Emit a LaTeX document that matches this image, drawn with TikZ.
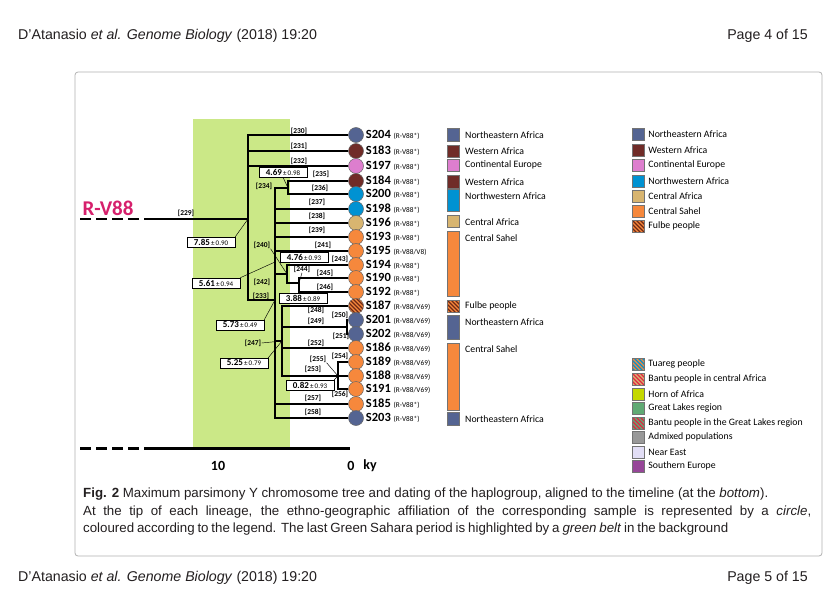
\documentclass[tikz,border=0pt]{standalone}
\usepackage{fontspec}
\setmainfont{Liberation Sans}
\newfontfamily\figfont{Carlito}
\usetikzlibrary{positioning}

\definecolor{nea}{RGB}{84,100,146}
\definecolor{wafr}{RGB}{112,44,40}
\definecolor{ceur}{RGB}{221,126,206}
\definecolor{nwafr}{RGB}{0,146,210}
\definecolor{cafr}{RGB}{216,181,112}
\definecolor{csahel}{RGB}{246,136,60}
\definecolor{fulbed}{RGB}{110,40,20}
\definecolor{bred}{RGB}{226,36,66}
\definecolor{horn}{RGB}{196,216,0}
\definecolor{glakes}{RGB}{96,170,116}
\definecolor{admix}{RGB}{152,152,152}
\definecolor{neast}{RGB}{226,222,246}
\definecolor{seur}{RGB}{150,70,152}
\definecolor{belt}{RGB}{203,232,135}
\definecolor{rvcol}{RGB}{214,32,108}
\definecolor{txtcol}{RGB}{35,31,32}

\newcommand\hg[1]{{\mdseries\fontsize{7.3}{8}\selectfont #1}}
\newcommand\dt[2]{\textbf{#1}{\fontsize{7}{8}\selectfont\,±\,#2}}
% striped patch: clip path, x, y, base colour, stripe colour
\newcommand\stripefill[5]{%
  \begin{scope}
    \clip #1;
    \fill[#4] #1;
    \foreach \k in {-20,-16,...,20}
      \draw[#5, line width=1.4pt] (#2+\k,#3) -- ++(24,24);
  \end{scope}}

\begin{document}
\begin{tikzpicture}[x=1pt,y=-1pt,
    branch/.style={line width=2.6pt},
    twig/.style={line width=1.7pt},
    lead/.style={line width=0.45pt},
    leaf/.style={circle, draw=black!60, line width=0.5pt, minimum size=15pt, inner sep=0pt},
    sname/.style={font=\figfont\bfseries\fontsize{12.5}{13}\selectfont, inner sep=0pt},
    bl/.style={font=\figfont\bfseries\fontsize{7.5}{8}\selectfont, inner sep=0.3pt},
    date/.style={draw, fill=white, line width=0.5pt, minimum width=48pt, minimum height=10pt,
      inner sep=0.5pt, font=\figfont\fontsize{9}{9}\selectfont},
    legbox/.style={draw=black!55, line width=0.5pt},
    legsq/.style={legbox, minimum size=12pt, inner sep=0pt},
    legtxt/.style={font=\figfont\fontsize{9.8}{10}\selectfont, inner sep=0pt, anchor=west},
    axisline/.style={line width=3pt},
    ticklbl/.style={font=\figfont\bfseries\fontsize{14}{15}\selectfont, inner sep=0pt},
    pagetxt/.style={font=\fontsize{14.2}{16}\selectfont, text=txtcol, inner sep=0pt},
    captxt/.style={font=\fontsize{13.3}{15}\selectfont, text=txtcol, inner sep=0pt, anchor=west}]
        \useasboundingbox (0,0) rectangle (838,605);
        \fill[white] (0,0) rectangle (838,605);

        % page header and footer
        \node[pagetxt, anchor=west] (head) at (18,36) {D’Atanasio \textit{et al. Genome Biology} (2018) 19:20};
        \node[pagetxt, anchor=east] (page4) at (808,36) {Page 4 of 15};
        \node[pagetxt, anchor=west] (foot) at (18,578) {D’Atanasio \textit{et al. Genome Biology} (2018) 19:20};
        \node[pagetxt, anchor=east] (page5) at (808,578) {Page 5 of 15};
        \draw[black!30, line width=0.8pt, rounded corners=3pt] (75,72) rectangle (822,556);

        % green sahara belt
        \fill[belt] (193,119) rectangle (290,448);

        % timeline
        \coordinate (ax0) at (80,448);
        \coordinate (ax1) at (150,448);
        \coordinate (ax2) at (350,448);
        \draw[axisline, dash pattern=on 11pt off 5pt] (ax0) -- (ax1);
        \draw[axisline] (ax1) -- (ax2);
        \node[ticklbl] (k10) at (218,466) {10};
        \node[ticklbl] (k0) at (351,466) {0};
        \node[ticklbl] (kky) at (370,466) {ky};

        % samples
        \node[leaf, fill=nea] (s204) at (356,135) {};
        \node[leaf, fill=wafr] (s183) at (356,151) {};
        \node[leaf, fill=ceur] (s197) at (356,166) {};
        \node[leaf, fill=wafr] (s184) at (356,181) {};
        \node[leaf, fill=nwafr] (s200) at (356,194) {};
        \node[leaf, fill=nwafr] (s198) at (356,209) {};
        \node[leaf, fill=cafr] (s196) at (356,223) {};
        \node[leaf, fill=csahel] (s193) at (356,237) {};
        \node[leaf, fill=csahel] (s195) at (356,251) {};
        \node[leaf, fill=csahel] (s194) at (356,265) {};
        \node[leaf, fill=csahel] (s190) at (356,278) {};
        \node[leaf, fill=csahel] (s192) at (356,292) {};
        \stripefill{(356,306) circle (7.5)}{348}{298}{csahel}{fulbed}
        \node[leaf] (s187) at (356,306) {};
        \node[leaf, fill=nea] (s201) at (356,320) {};
        \node[leaf, fill=nea] (s202) at (356,334) {};
        \node[leaf, fill=csahel] (s186) at (356,348) {};
        \node[leaf, fill=csahel] (s189) at (356,362) {};
        \node[leaf, fill=csahel] (s188) at (356,376) {};
        \node[leaf, fill=csahel] (s191) at (356,389) {};
        \node[leaf, fill=csahel] (s185) at (356,404) {};
        \node[leaf, fill=nea] (s203) at (356,418) {};

        \node[sname, right=2pt of s204] (t204) {S204 \hg{(R-V88*)}};
        \node[sname, right=2pt of s183] (t183) {S183 \hg{(R-V88*)}};
        \node[sname, right=2pt of s197] (t197) {S197 \hg{(R-V88*)}};
        \node[sname, right=2pt of s184] (t184) {S184 \hg{(R-V88*)}};
        \node[sname, right=2pt of s200] (t200) {S200 \hg{(R-V88*)}};
        \node[sname, right=2pt of s198] (t198) {S198 \hg{(R-V88*)}};
        \node[sname, right=2pt of s196] (t196) {S196 \hg{(R-V88*)}};
        \node[sname, right=2pt of s193] (t193) {S193 \hg{(R-V88*)}};
        \node[sname, right=2pt of s195] (t195) {S195 \hg{(R-V88/V8)}};
        \node[sname, right=2pt of s194] (t194) {S194 \hg{(R-V88*)}};
        \node[sname, right=2pt of s190] (t190) {S190 \hg{(R-V88*)}};
        \node[sname, right=2pt of s192] (t192) {S192 \hg{(R-V88*)}};
        \node[sname, right=2pt of s187] (t187) {S187 \hg{(R-V88/V69)}};
        \node[sname, right=2pt of s201] (t201) {S201 \hg{(R-V88/V69)}};
        \node[sname, right=2pt of s202] (t202) {S202 \hg{(R-V88/V69)}};
        \node[sname, right=2pt of s186] (t186) {S186 \hg{(R-V88/V69)}};
        \node[sname, right=2pt of s189] (t189) {S189 \hg{(R-V88/V69)}};
        \node[sname, right=2pt of s188] (t188) {S188 \hg{(R-V88/V69)}};
        \node[sname, right=2pt of s191] (t191) {S191 \hg{(R-V88/V69)}};
        \node[sname, right=2pt of s185] (t185) {S185 \hg{(R-V88*)}};
        \node[sname, right=2pt of s203] (t203) {S203 \hg{(R-V88*)}};

        % internal nodes
        \coordinate (rd) at (80,219);
        \coordinate (rs) at (150,219);
        \coordinate (r) at (248,219);
        \coordinate (n233) at (275,300);
        \coordinate (n235) at (288,188);
        \coordinate (n240) at (275,262);
        \coordinate (n243) at (287,274);
        \coordinate (n244) at (299,283);
        \coordinate (n247) at (282,341);
        \coordinate (n250) at (347,327);
        \coordinate (n254) at (338,376);

        % tree
        \draw[branch, dash pattern=on 11pt off 5pt] (rd) -- (rs);
        \draw[branch, line width=2pt] (rs) -- (r);
        \node[font=\figfont\bfseries\fontsize{21}{22}\selectfont, text=rvcol, inner sep=0pt] (rv88) at (108,208) {R-V88};
        \draw[branch] (s204) -- (r |- s204) -- (r |- n233) -- (n233);
        \draw[branch] (s183) -- (r |- s183);
        \draw[branch] (s197) -- (r |- s197);
        \draw[branch] (n235) -- (n233 |- n235) -- (n233 |- s203) -- (s203);
        \draw[branch] (s184) -- (n235 |- s184) -- (n235 |- s200) -- (s200);
        \draw[twig] (s198) -- (n233 |- s198);
        \draw[twig] (s196) -- (n233 |- s196);
        \draw[branch] (s193) -- (n233 |- s193);
        \draw[twig] (s195) -- (n233 |- s195);
        \draw[branch] (n243) -- (n233 |- n243);
        \draw[branch] (s194) -- (n243 |- s194) -- (n243 |- n244) -- (n244);
        \draw[branch] (s190) -- (n244 |- s190) -- (n244 |- s192) -- (s192);
        \draw[branch] (n247) -- (n233 |- n247);
        \draw[branch] (s187) -- (n247 |- s187) -- (n247 |- s188) -- (s188);
        \draw[branch] (n250) -- (n247 |- n250);
        \draw[branch] (s201) -- (n250 |- s201) -- (n250 |- s202) -- (s202);
        \draw[twig] (s186) -- (n247 |- s186);
        \draw[branch] (s189) -- (n254 |- s189) -- (n254 |- s191) -- (s191);
        \draw[branch] (s185) -- (n233 |- s185);

        % branch numbers
        \node[bl] (l229) at (186,213) {[229]};
        \node[bl] (l230) at (299,131) {[230]};
        \node[bl] (l231) at (299,146) {[231]};
        \node[bl] (l232) at (299,161) {[232]};
        \node[bl] (l234) at (264,186) {[234]};
        \node[bl] (l235) at (321,174) {[235]};
        \node[bl] (l236) at (320,188) {[236]};
        \node[bl] (l237) at (317,202) {[237]};
        \node[bl] (l238) at (317,216) {[238]};
        \node[bl] (l239) at (317,230) {[239]};
        \node[bl] (l240) at (262,245) {[240]};
        \node[bl] (l241) at (323,245) {[241]};
        \node[bl] (l242) at (262,282) {[242]};
        \node[bl] (l243) at (340,259) {[243]};
        \node[bl] (l244) at (302,269) {[244]};
        \node[bl] (l245) at (325,273) {[245]};
        \node[bl] (l246) at (325,287) {[246]};
        \node[bl] (l233) at (261,296) {[233]};
        \node[bl] (l248) at (316,310) {[248]};
        \node[bl] (l249) at (316,321) {[249]};
        \node[bl] (l250) at (340,315) {[250]};
        \node[bl] (l251) at (341,336) {[251]};
        \node[bl] (l252) at (316,343) {[252]};
        \node[bl] (l247) at (253,343) {[247]};
        \node[bl] (l255) at (318,359) {[255]};
        \node[bl] (l254) at (340,356) {[254]};
        \node[bl] (l253) at (313,369) {[253]};
        \node[bl] (l256) at (340,394) {[256]};
        \node[bl] (l257) at (313,398) {[257]};
        \node[bl] (l258) at (313,412) {[258]};
        \draw[lead] (l240.south east) -- (n243);
        \draw[lead] (l244.south) -- (n244);
        \draw[lead] (l247.east) -- (n247);
        \draw[lead] (l255.south east) -- (n254);

        % dating of the nodes
        \node[date] (d785) at (211,242) {\dt{7.85}{0.90}};
        \node[date] (d469) at (283,172) {\dt{4.69}{0.98}};
        \node[date] (d561) at (216,283) {\dt{5.61}{0.94}};
        \node[date] (d476) at (304,257) {\dt{4.76}{0.93}};
        \node[date] (d388) at (303,298) {\dt{3.88}{0.89}};
        \node[date] (d573) at (240,325) {\dt{5.73}{0.49}};
        \node[date] (d525) at (244,363) {\dt{5.25}{0.79}};
        \node[date] (d082) at (310,385) {\dt{0.82}{0.93}};
        \draw[lead] (d785.north east) -- (r);
        \draw[lead] (d469.south) -- (n235);
        \draw[lead] (d561.north east) -- (n240);
        \draw[lead] (d573.north east) -- (n233);
        \draw[lead] (d525.north east) -- (n247);
        \draw[lead] (d082.north east) -- (n254);

        % legend beside the samples
        \draw[legbox, fill=nea] (447,128) rectangle (459,141);
        \draw[legbox, fill=wafr] (447,145) rectangle (459,157);
        \draw[legbox, fill=ceur] (447,159) rectangle (459,171);
        \draw[legbox, fill=wafr] (447,175) rectangle (459,188);
        \draw[legbox, fill=nwafr] (447,189) rectangle (459,211);
        \draw[legbox, fill=cafr] (447,215) rectangle (459,227);
        \draw[legbox, fill=csahel] (447,231) rectangle (459,296);
        \stripefill{(447,300) rectangle (459,312)}{447}{300}{csahel}{fulbed}
        \draw[legbox] (447,300) rectangle (459,312);
        \draw[legbox, fill=nea] (447,315) rectangle (459,339);
        \draw[legbox, fill=csahel] (447,343) rectangle (459,410);
        \draw[legbox, fill=nea] (447,412) rectangle (459,425);
        \node[legtxt] (m1) at (465,135) {Northeastern Africa};
        \node[legtxt] (m2) at (465,151) {Western Africa};
        \node[legtxt] (m3) at (465,165) {Continental Europe};
        \node[legtxt] (m4) at (465,182) {Western Africa};
        \node[legtxt] (m5) at (465,196) {Northwestern Africa};
        \node[legtxt] (m6) at (465,222) {Central Africa};
        \node[legtxt] (m7) at (465,238) {Central Sahel};
        \node[legtxt] (m8) at (465,306) {Fulbe people};
        \node[legtxt] (m9) at (465,322) {Northeastern Africa};
        \node[legtxt] (m10) at (465,349) {Central Sahel};
        \node[legtxt] (m11) at (465,419) {Northeastern Africa};

        % colour key
        \node[legsq, fill=nea] (k1) at (638,134) {};
        \node[legsq, fill=wafr] (k2) at (638,150) {};
        \node[legsq, fill=ceur] (k3) at (638,165) {};
        \node[legsq, fill=nwafr] (k4) at (638,181) {};
        \node[legsq, fill=cafr] (k5) at (638,196) {};
        \node[legsq, fill=csahel] (k6) at (638,211) {};
        \stripefill{(632,220) rectangle (644,232)}{632}{220}{csahel}{fulbed}
        \node[legsq] (k7) at (638,226) {};
        \stripefill{(632,358) rectangle (644,370)}{632}{358}{nwafr}{csahel}
        \node[legsq] (k8) at (638,364) {};
        \stripefill{(632,373) rectangle (644,385)}{632}{373}{cafr}{bred}
        \node[legsq] (k9) at (638,379) {};
        \node[legsq, fill=horn] (k10) at (638,394) {};
        \node[legsq, fill=glakes] (k11) at (638,408) {};
        \stripefill{(632,417) rectangle (644,429)}{632}{417}{glakes}{bred}
        \node[legsq] (k12) at (638,423) {};
        \node[legsq, fill=admix] (k13) at (638,437) {};
        \node[legsq, fill=neast] (k14) at (638,452) {};
        \node[legsq, fill=seur] (k15) at (638,466) {};
        \node[legtxt, right=4pt of k1] (k1t) {Northeastern Africa};
        \node[legtxt, right=4pt of k2] (k2t) {Western Africa};
        \node[legtxt, right=4pt of k3] (k3t) {Continental Europe};
        \node[legtxt, right=4pt of k4] (k4t) {Northwestern Africa};
        \node[legtxt, right=4pt of k5] (k5t) {Central Africa};
        \node[legtxt, right=4pt of k6] (k6t) {Central Sahel};
        \node[legtxt, right=4pt of k7] (k7t) {Fulbe people};
        \node[legtxt, right=4pt of k8] (k8t) {Tuareg people};
        \node[legtxt, right=4pt of k9] (k9t) {Bantu people in central Africa};
        \node[legtxt, right=4pt of k10] (k10t) {Horn of Africa};
        \node[legtxt, right=4pt of k11] (k11t) {Great Lakes region};
        \node[legtxt, right=4pt of k12] (k12t) {Bantu people in the Great Lakes region};
        \node[legtxt, right=4pt of k13] (k13t) {Admixed populations};
        \node[legtxt, right=4pt of k14] (k14t) {Near East};
        \node[legtxt, right=4pt of k15] (k15t) {Southern Europe};

        % caption
        \node[captxt] (cap1) at (83,494) {\makebox[685pt][s]{\textbf{Fig. 2} Maximum parsimony Y chromosome tree and dating of the haplogroup, aligned to the timeline (at the \textit{bottom}).}};
        \node[captxt] (cap2) at (83,512) {\makebox[728pt][s]{At the tip of each lineage, the ethno-geographic affiliation of the corresponding sample is represented by a \textit{circle},}};
        \node[captxt] (cap3) at (83,529) {\makebox[645pt][s]{coloured according to the legend. The last Green Sahara period is highlighted by a \textit{green belt} in the background}};
    \end{tikzpicture}
\end{document}
